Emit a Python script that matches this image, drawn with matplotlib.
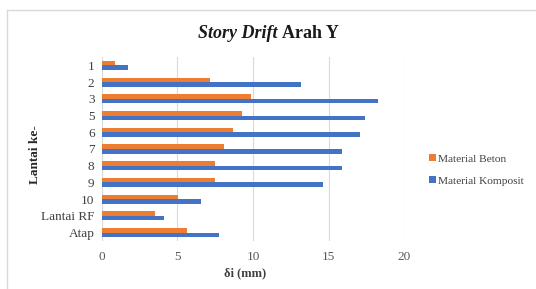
import matplotlib
matplotlib.use("Agg")
import matplotlib.pyplot as plt
from matplotlib.lines import Line2D
import numpy as np

categories = ["1", "2", "3", "5", "6", "7", "8", "9", "10", "Lantai RF", "Atap"]
beton = [0.9, 7.15, 9.9, 9.3, 8.65, 8.07, 7.48, 7.48, 5.06, 3.56, 5.65]
komposit = [1.76, 13.18, 18.26, 17.36, 17.07, 15.88, 15.88, 14.65, 6.57, 4.13, 7.76]
xticks = [0, 5, 10, 15, 20]

plt.rcParams['font.family'] = ['Liberation Serif', 'DejaVu Serif']

fig = plt.figure(figsize=(5.36, 2.89), dpi=100)
# chart frame (top and left edges visible)
fig.add_artist(Line2D([6.5/536, 6.5/536], [0.5/289, 1 - 9.5/289], transform=fig.transFigure,
                      color='#D9D9D9', linewidth=1.0))
fig.add_artist(Line2D([6.5/536, 1.0], [1 - 9.5/289, 1 - 9.5/289], transform=fig.transFigure,
                      color='#D9D9D9', linewidth=1.0))

ax = fig.add_axes([101.5/536, 48/289, 303/536, 184/289])

y = np.arange(len(categories))
h = 0.27
ax.barh(y - h/2, beton, height=h, color='#ED7D31', label='Material Beton', zorder=3)
ax.barh(y + h/2, komposit, height=h, color='#4472C4', label='Material Komposit', zorder=3)

ax.set_ylim(len(categories) - 0.5, -0.5)
ax.set_xlim(0, 20)
ax.set_yticks(y)
ax.set_yticklabels(categories, fontsize=9.5, color='#404040')
ax.set_xticks(xticks)
ax.set_xticklabels([str(t) for t in xticks], fontsize=9.5, color='#595959')
ax.tick_params(axis='x', length=0, pad=7)
ax.tick_params(axis='y', length=0, pad=5)
ax.grid(axis='x', color='#D9D9D9', linewidth=0.8, zorder=0)
for s in ax.spines.values():
    s.set_visible(False)

fig.text(35/536, 1 - 155/289, 'Lantai ke-', fontsize=9.5, fontweight='bold', color='#262626',
         rotation=90, ha='center', va='center')
fig.text(245/536, 1 - 273/289, 'δi (mm)', fontsize=9, fontweight='bold', color='#404040',
         ha='center', va='center')

fig.text(282/536, 1 - 33/289, 'Story Drift ', fontsize=13, fontweight='bold',
         fontstyle='italic', ha='right', va='center', color='#1a1a1a')
fig.text(282/536, 1 - 33/289, 'Arah Y', fontsize=13, fontweight='bold',
         ha='left', va='center', color='#1a1a1a')

ax.legend(loc='center left', bbox_to_anchor=(419/536, 1 - 170/289), bbox_transform=fig.transFigure,
          frameon=False, fontsize=8.2, handlelength=0.6, handleheight=0.6, handletextpad=0.2,
          labelspacing=1.1, labelcolor='#404040')

fig.savefig('out.png', dpi=100)
